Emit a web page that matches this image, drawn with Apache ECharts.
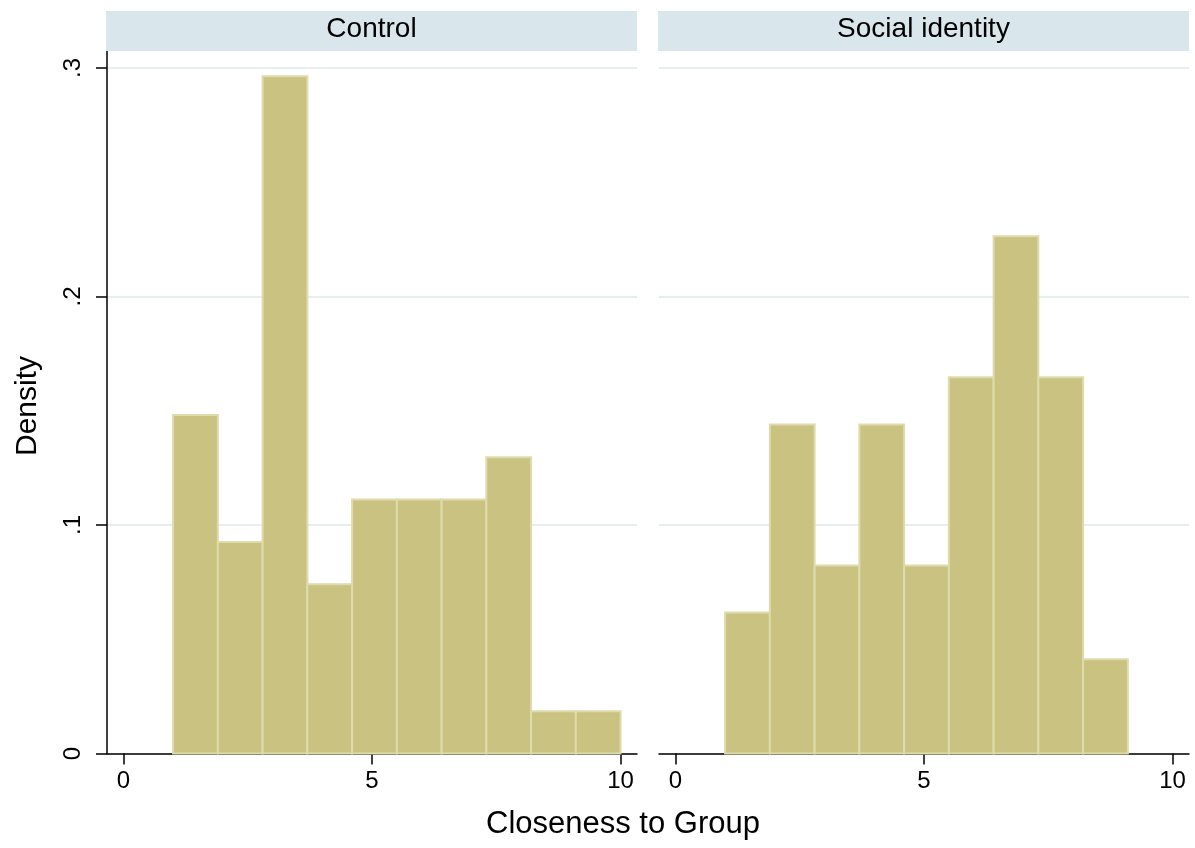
<!DOCTYPE html>
<html>
<head>
<meta charset="utf-8">
<title>Closeness to Group</title>
<script src="https://cdn.jsdelivr.net/npm/echarts@6/dist/echarts.min.js"></script>
<style>
  html, body { margin: 0; padding: 0; background: #ffffff; }
  #chart { width: 1195px; height: 848px; }
</style>
</head>
<body>
<div id="chart"></div>
<script>
// Histogram bins (same bins in both panels)
const binStart = 1;
const binWidth = 0.9;

// Panel titles
const panels = ['Control', 'Social identity'];

// Densities per bin
const controlDensity = [0.1481, 0.0926, 0.2963, 0.0741, 0.1111, 0.1111, 0.1111, 0.1296, 0.0185, 0.0185];
const socialDensity  = [0.0617, 0.1440, 0.0823, 0.1440, 0.0823, 0.1646, 0.2263, 0.1646, 0.0412];

// Axis ticks
const xTickValues = [0, 5, 10];
const yTickValues = [0, 0.1, 0.2, 0.3];
const yTickLabels = ['0', '.1', '.2', '.3'];

const xTitle = 'Closeness to Group';
const yTitle = 'Density';

const FONT = '"Liberation Sans", Arial, Helvetica, sans-serif';
const BAR_FILL = '#c9c280';
const BAR_EDGE = '#dedbac';
const GRID_COLOR = '#e6eff0';

function toBins(dens) {
  return dens.map((d, i) => [binStart + i * binWidth, binStart + (i + 1) * binWidth, d]);
}

function renderBar(params, api) {
  const p0 = api.coord([api.value(0), api.value(2)]);
  const p1 = api.coord([api.value(1), 0]);
  return {
    type: 'rect',
    shape: { x: p0[0], y: p0[1], width: p1[0] - p0[0], height: p1[1] - p0[1] },
    style: { fill: BAR_FILL, stroke: BAR_EDGE, lineWidth: 2 }
  };
}

function yLabel(v) {
  const i = yTickValues.findIndex(t => Math.abs(t - v) < 1e-9);
  return i >= 0 ? yTickLabels[i] : '';
}

const xAxisCommon = {
  type: 'value',
  min: -0.33,
  max: 10.33,
  axisLine: { show: true, onZero: false, lineStyle: { color: '#000', width: 1.5 } },
  axisTick: { show: true, length: 11, lineStyle: { color: '#000', width: 1.5 }, customValues: xTickValues },
  axisLabel: { color: '#000', fontSize: 24, fontFamily: FONT, margin: 16, customValues: xTickValues },
  splitLine: { show: false }
};

const yMax = 0.3074;

const chart = echarts.init(document.getElementById('chart'), null, { renderer: 'canvas' });

chart.setOption({
  animation: false,
  backgroundColor: '#ffffff',
  grid: [
    { left: 107, top: 51, width: 530, height: 702.5 },
    { left: 659, top: 51, width: 530, height: 702.5 }
  ],
  xAxis: [
    Object.assign({ gridIndex: 0 }, xAxisCommon),
    Object.assign({ gridIndex: 1 }, xAxisCommon)
  ],
  yAxis: [
    {
      gridIndex: 0, type: 'value', min: 0, max: yMax,
      axisLine: { show: true, onZero: false, lineStyle: { color: '#000', width: 1.5 } },
      axisTick: { show: true, length: 11, lineStyle: { color: '#000', width: 1.5 }, customValues: yTickValues },
      axisLabel: {
        color: '#000', fontSize: 24, fontFamily: FONT, rotate: 90, margin: 22,
        customValues: yTickValues, formatter: yLabel
      },
      splitLine: { show: true, lineStyle: { color: GRID_COLOR, width: 2 } }
    },
    {
      gridIndex: 1, type: 'value', min: 0, max: yMax,
      axisLine: { show: false, onZero: false },
      axisTick: { show: false, customValues: yTickValues },
      axisLabel: { show: false, customValues: yTickValues },
      splitLine: { show: true, lineStyle: { color: GRID_COLOR, width: 2 } }
    }
  ],
  series: [
    {
      type: 'custom', xAxisIndex: 0, yAxisIndex: 0,
      renderItem: renderBar, data: toBins(controlDensity), z: 3
    },
    {
      type: 'custom', xAxisIndex: 1, yAxisIndex: 1,
      renderItem: renderBar, data: toBins(socialDensity), z: 3
    }
  ],
  graphic: [
    { type: 'rect', shape: { x: 106, y: 11, width: 531, height: 40 }, style: { fill: '#d9e6eb' }, z: 10 },
    { type: 'rect', shape: { x: 658, y: 11, width: 531, height: 40 }, style: { fill: '#d9e6eb' }, z: 10 },
    { type: 'text', x: 371.5, y: 29, z: 11,
      style: { text: panels[0], align: 'center', verticalAlign: 'middle', fontSize: 28, fontFamily: FONT, fill: '#000' } },
    { type: 'text', x: 923.5, y: 29, z: 11,
      style: { text: panels[1], align: 'center', verticalAlign: 'middle', fontSize: 28, fontFamily: FONT, fill: '#000' } },
    { type: 'text', x: 623, y: 824, z: 11,
      style: { text: xTitle, align: 'center', verticalAlign: 'middle', fontSize: 31, fontFamily: FONT, fill: '#000' } },
    { type: 'text', x: 28, y: 406, rotation: Math.PI / 2, z: 11,
      style: { text: yTitle, align: 'center', verticalAlign: 'middle', fontSize: 30, fontFamily: FONT, fill: '#000' } }
  ]
});
</script>
</body>
</html>
